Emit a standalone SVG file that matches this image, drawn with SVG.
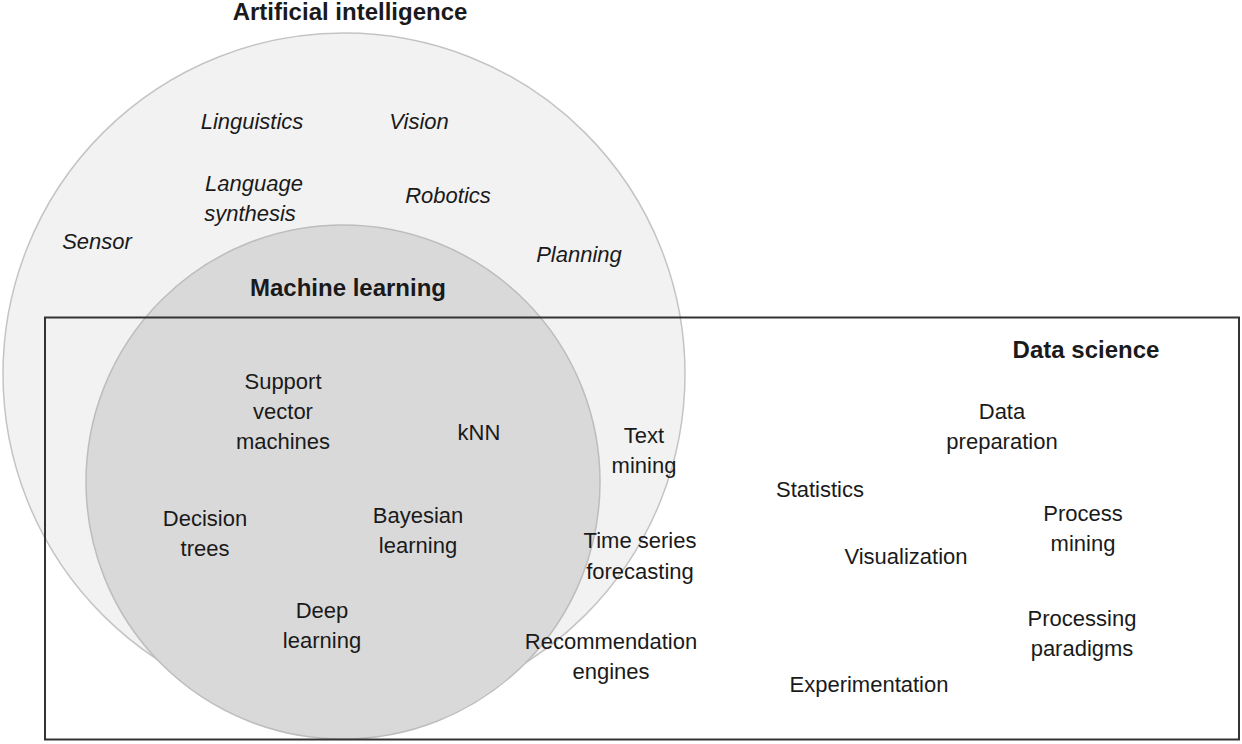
<svg xmlns="http://www.w3.org/2000/svg" width="1242" height="744" viewBox="0 0 1242 744">
<style>
text{font-family:"Liberation Sans",Arial,sans-serif;font-size:22px;fill:#1a1a1a;text-anchor:middle}
.i{font-style:italic}
.b{font-weight:bold;font-size:24px}
</style>
<rect width="1242" height="744" fill="#ffffff"/>
<g id="ai"><circle cx="344" cy="374" r="341" fill="#f2f2f2" stroke="#c4c4c4" stroke-width="1.5"/>
<text class="b" x="350" y="20">Artificial intelligence</text>
<text class="i" x="252" y="129">Linguistics</text>
<text class="i" x="419" y="129">Vision</text>
<text class="i" x="254" y="191">Language</text>
<text class="i" x="250" y="221">synthesis</text>
<text class="i" x="448" y="203">Robotics</text>
<text class="i" x="97" y="249">Sensor</text>
<text class="i" x="579" y="262">Planning</text></g>
<g id="ml"><circle cx="343" cy="482" r="257" fill="#d9d9d9" stroke="#bdbdbd" stroke-width="1.5"/>
<text class="b" x="348" y="296">Machine learning</text>
<text x="283" y="389">Support</text><text x="283" y="419">vector</text><text x="283" y="449">machines</text>
<text x="479" y="440">kNN</text>
<text x="205" y="526">Decision</text><text x="205" y="556">trees</text>
<text x="418" y="523">Bayesian</text><text x="418" y="553">learning</text>
<text x="322" y="618">Deep</text><text x="322" y="648">learning</text></g>
<g id="ds"><rect x="45" y="317.5" width="1194" height="422" fill="none" stroke="#333" stroke-width="2"/>
<text class="b" x="1086" y="358">Data science</text>
<text x="644" y="443">Text</text><text x="644" y="473">mining</text>
<text x="640" y="548">Time series</text><text x="640" y="579">forecasting</text>
<text x="611" y="649">Recommendation</text><text x="611" y="679">engines</text>
<text x="1002" y="419">Data</text><text x="1002" y="449">preparation</text>
<text x="820" y="497">Statistics</text>
<text x="1083" y="521">Process</text><text x="1083" y="551">mining</text>
<text x="906" y="564">Visualization</text>
<text x="1082" y="626">Processing</text><text x="1082" y="656">paradigms</text>
<text x="869" y="692">Experimentation</text></g>
<g id="connectors"/>
</svg>
